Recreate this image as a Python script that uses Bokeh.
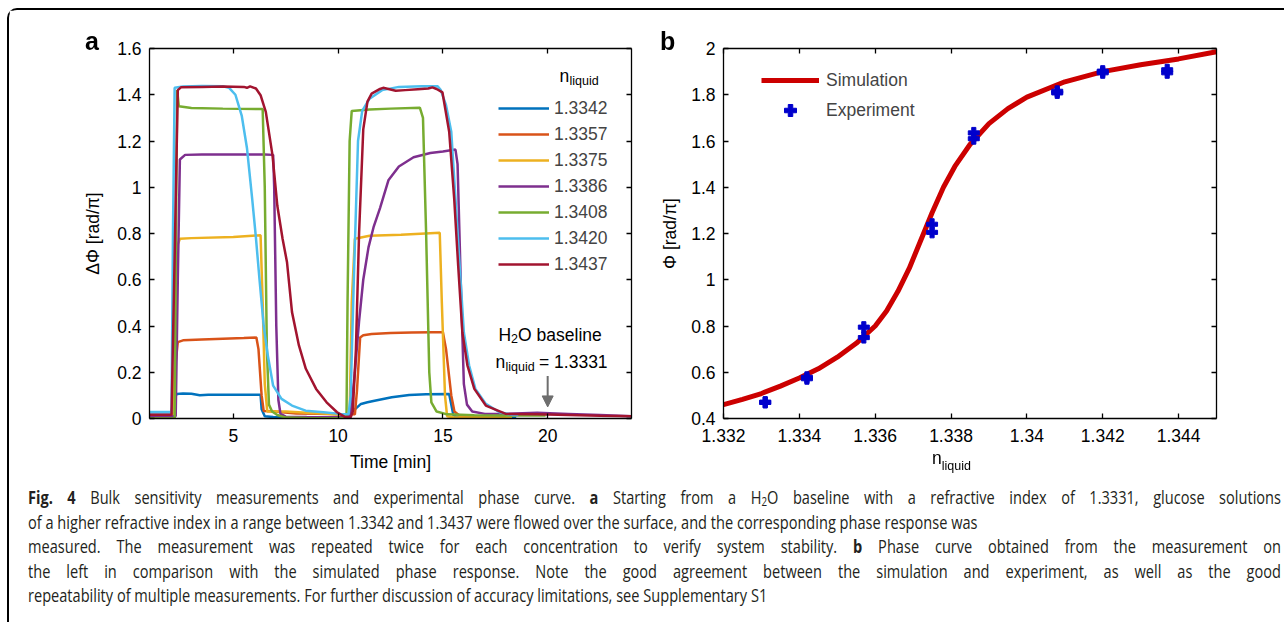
from bokeh.plotting import figure
from bokeh.models import (Range1d, LinearAxis, FixedTicker, CustomJSTickFormatter,
                          Legend, LegendItem, Label, Arrow, NormalHead, Div)
from bokeh.layouts import column, row
from bokeh.embed import file_html
from bokeh.resources import INLINE

# ---------------- Panel a data: phase response vs time ----------------
series_labels = ["1.3342", "1.3357", "1.3375", "1.3386", "1.3408", "1.3420", "1.3437"]
series_colors = ["#0072BD", "#D95319", "#EDB120", "#7E2F8E", "#77AC30", "#4DBEEE", "#A2142F"]

t_1_3342 = [1.0, 2.05, 2.15, 2.3, 2.6, 3.0, 3.4, 3.8, 5.0, 6.3, 6.35, 6.5, 6.9, 8.0, 9.0, 10.0,
            10.45, 10.76, 11.09, 11.4, 11.74, 12.56, 13.39, 14.2, 15.3, 15.4, 15.5, 15.7, 17.0, 18.5]
y_1_3342 = [0.027, 0.027, 0.08, 0.106, 0.108, 0.107, 0.101, 0.103, 0.103, 0.103, 0.04, 0.01, 0.006,
            0.005, 0.005, 0.005, 0.008, 0.036, 0.063, 0.07, 0.077, 0.092, 0.102, 0.105, 0.106, 0.06,
            0.015, 0.006, 0.004, 0.003]

t_1_3357 = [1.0, 2.1, 2.2, 2.35, 2.6, 3.5, 4.5, 5.5, 6.1, 6.2, 6.35, 6.45, 7.0, 7.2, 8.0, 9.0, 10.0,
            10.8, 10.9, 11.05, 11.2, 11.6, 12.5, 13.5, 14.5, 15.0, 15.15, 15.3, 15.4, 15.55, 15.8,
            17.0, 18.0]
y_1_3357 = [0.01, 0.01, 0.2, 0.33, 0.338, 0.342, 0.345, 0.348, 0.35, 0.3, 0.1, 0.032, 0.03, 0.028,
            0.022, 0.02, 0.018, 0.018, 0.12, 0.35, 0.36, 0.365, 0.37, 0.372, 0.373, 0.373, 0.3, 0.18,
            0.1, 0.03, 0.012, 0.008, 0.006]

t_1_3375 = [1.0, 2.15, 2.3, 2.45, 3.0, 5.0, 6.3, 6.4, 6.5, 6.62, 7.5, 8.5, 9.5, 10.4, 10.55, 10.65,
            10.8, 11.5, 13.0, 14.85, 14.95, 15.1, 15.2, 15.5, 18.3]
y_1_3375 = [0.01, 0.01, 0.74, 0.777, 0.78, 0.785, 0.792, 0.5, 0.15, 0.03, 0.03, 0.025, 0.02, 0.015,
            0.015, 0.5, 0.777, 0.79, 0.795, 0.803, 0.5, 0.1, 0.01, 0.005, 0.003]

t_1_3386 = [1.0, 2.25, 2.35, 2.45, 2.7, 3.5, 5.0, 6.5, 6.9, 6.95, 7.05, 7.15, 7.25, 7.5, 8.5, 9.5,
            10.4, 10.6, 10.8, 11.0, 11.2, 11.45, 11.7, 12.0, 12.4, 12.9, 13.6, 14.4, 15.0, 15.6,
            15.7, 15.85, 16.0, 16.15, 16.4, 17.0, 18.0, 19.5, 21.0, 22.5, 24.0]
y_1_3386 = [0.01, 0.01, 0.6, 1.12, 1.14, 1.142, 1.142, 1.142, 1.14, 1.0, 0.4, 0.08, 0.02, 0.008,
            0.006, 0.005, 0.005, 0.02, 0.2, 0.42, 0.6, 0.74, 0.83, 0.91, 1.03, 1.09, 1.13, 1.148,
            1.155, 1.163, 1.1, 0.6, 0.15, 0.06, 0.03, 0.02, 0.02, 0.025, 0.02, 0.015, 0.01]

t_1_3408 = [1.0, 2.2, 2.28, 2.32, 2.4, 3.0, 4.5, 6.4, 6.5, 6.6, 6.7, 6.85, 7.1, 7.5, 8.5, 9.5, 10.4,
            10.45, 10.55, 10.65, 11.5, 12.5, 13.9, 14.05, 14.2, 14.35, 14.45, 14.7, 15.2, 16.5,
            18.0, 19.9]
y_1_3408 = [0.0, 0.0, 1.0, 1.42, 1.35, 1.343, 1.34, 1.338, 1.0, 0.3, 0.06, 0.03, 0.015, 0.004,
            0.002, 0.001, 0.002, 0.5, 1.2, 1.33, 1.336, 1.34, 1.344, 1.3, 0.8, 0.2, 0.07, 0.03,
            0.018, 0.014, 0.013, 0.013]

t_1_3420 = [1.0, 2.05, 2.12, 2.2, 2.6, 3.5, 4.5, 4.8, 5.1, 5.4, 5.65, 5.9, 6.08, 6.25, 6.45, 6.65,
            6.9, 7.3, 7.8, 8.45, 9.3, 10.1, 10.5, 10.6, 10.75, 10.95, 11.15, 11.5, 12.1, 12.9, 14.0,
            14.75, 14.9, 15.15, 15.4, 15.6, 15.8, 16.0, 16.25, 16.55, 17.05, 17.7, 18.3, 18.6]
y_1_3420 = [0.028, 0.028, 0.8, 1.43, 1.436, 1.438, 1.437, 1.43, 1.40, 1.31, 1.17, 0.95, 0.78, 0.6,
            0.4, 0.27, 0.142, 0.085, 0.056, 0.034, 0.027, 0.02, 0.018, 0.1, 0.6, 1.2, 1.33, 1.383,
            1.42, 1.434, 1.437, 1.437, 1.42, 1.355, 1.24, 0.95, 0.66, 0.373, 0.23, 0.128, 0.063,
            0.027, 0.016, 0.015]

t_1_3437 = [1.0, 2.05, 2.2, 2.35, 2.5, 3.5, 4.5, 5.5, 5.65, 5.8, 6.08, 6.3, 6.55, 6.87, 7.1, 7.35,
            7.56, 7.8, 8.13, 8.46, 8.95, 9.45, 9.95, 10.3, 10.6, 10.7, 10.85, 11.0, 11.2, 11.4,
            11.6, 12.0, 12.15, 12.4, 12.75, 13.2, 13.8, 14.3, 14.5, 14.7, 14.98, 15.3, 15.54, 15.73,
            15.93, 16.17, 16.5, 17.05, 18.0, 19.5, 21.0, 22.5, 24.0]
y_1_3437 = [0.016, 0.016, 0.7, 1.42, 1.432, 1.434, 1.436, 1.434, 1.43, 1.436, 1.427, 1.398, 1.326,
            1.138, 0.92, 0.777, 0.677, 0.46, 0.316, 0.215, 0.128, 0.07, 0.027, 0.008, 0.005, 0.03,
            0.3, 0.8, 1.25, 1.37, 1.405, 1.425, 1.43, 1.425, 1.417, 1.42, 1.424, 1.427, 1.432,
            1.425, 1.41, 1.24, 0.95, 0.66, 0.373, 0.23, 0.128, 0.056, 0.02, 0.018, 0.015, 0.012,
            0.01]

series_t = [t_1_3342, t_1_3357, t_1_3375, t_1_3386, t_1_3408, t_1_3420, t_1_3437]
series_y = [y_1_3342, y_1_3357, y_1_3375, y_1_3386, y_1_3408, y_1_3420, y_1_3437]

a_xticks = [5, 10, 15, 20]
a_yticks = [0, 0.2, 0.4, 0.6, 0.8, 1, 1.2, 1.4, 1.6]

# ---------------- Panel b data: phase curve ----------------
n_sim = [1.332, 1.3325, 1.333, 1.3335, 1.334, 1.3345, 1.335, 1.3355, 1.336, 1.3363, 1.3366,
         1.3369, 1.3372, 1.3375, 1.3378, 1.3381, 1.3385, 1.339, 1.3395, 1.340, 1.341, 1.342,
         1.343, 1.344, 1.345]
phi_sim = [0.46, 0.483, 0.508, 0.54, 0.575, 0.615, 0.665, 0.725, 0.8, 0.865, 0.95, 1.05, 1.17,
           1.29, 1.40, 1.49, 1.585, 1.675, 1.74, 1.79, 1.856, 1.9, 1.93, 1.955, 1.986]

n_exp = [1.3331, 1.3331, 1.3342, 1.3342, 1.3357, 1.3357, 1.3375, 1.3375, 1.3386, 1.3386,
         1.3408, 1.3408, 1.3420, 1.3420, 1.3437, 1.3437]
phi_exp = [0.47, 0.47, 0.572, 0.578, 0.75, 0.795, 1.205, 1.24, 1.61, 1.635, 1.808, 1.815,
           1.895, 1.902, 1.895, 1.908]

b_xticks = [1.332, 1.334, 1.336, 1.338, 1.34, 1.342, 1.344]
b_yticks = [0.4, 0.6, 0.8, 1, 1.2, 1.4, 1.6, 1.8, 2]

FONT = "Liberation Sans"
FS = "17.5px"
SUB = "12.5px"


def style_axes(p, xticks, yticks, xlabel_standoff=10, ylabel_standoff=8):
    fmt = CustomJSTickFormatter(code="return String(tick);")
    blank = CustomJSTickFormatter(code="return '';")
    xa = p.xaxis[0]
    ya = p.yaxis[0]
    xa.ticker = FixedTicker(ticks=xticks)
    ya.ticker = FixedTicker(ticks=yticks)
    xa.formatter = fmt
    ya.formatter = fmt
    xa.major_label_standoff = xlabel_standoff
    ya.major_label_standoff = ylabel_standoff
    top = LinearAxis(ticker=FixedTicker(ticks=xticks), formatter=blank, major_label_standoff=0)
    right = LinearAxis(ticker=FixedTicker(ticks=yticks), formatter=blank, major_label_standoff=0)
    p.add_layout(top, "above")
    p.add_layout(right, "right")
    for ax in (xa, ya, top, right):
        ax.major_tick_in = 5
        ax.major_tick_out = 0
        ax.minor_tick_line_color = None
        ax.axis_line_width = 1.3
        ax.axis_line_color = "black"
        ax.major_tick_line_width = 1.3
        ax.major_tick_line_color = "black"
        ax.major_label_text_font = FONT
        ax.major_label_text_font_size = FS
        ax.major_label_text_color = "black"
        ax.axis_label_text_font = FONT
        ax.axis_label_text_font_size = FS
        ax.axis_label_text_font_style = "normal"
        ax.axis_label_text_color = "black"
    p.grid.visible = False
    p.outline_line_color = None
    return xa, ya


def lab(p, x, y, text, size=FS, style="normal", align="left", baseline="alphabetic", color="black"):
    p.add_layout(Label(x=x, y=y, x_units="screen", y_units="screen", text=text,
                       text_font=FONT, text_font_size=size, text_font_style=style,
                       text_align=align, text_baseline=baseline, text_color=color))


# ---------------- Figure a ----------------
pa = figure(width=632, height=472, x_range=Range1d(1, 24), y_range=Range1d(0, 1.6),
            output_backend="svg", toolbar_location=None,
            min_border_left=140, min_border_right=10, min_border_top=38, min_border_bottom=64)
xa, ya = style_axes(pa, a_xticks, a_yticks, xlabel_standoff=10, ylabel_standoff=8)
xa.axis_label = "Time [min]"
xa.axis_label_standoff = 7
ya.axis_label = "ΔΦ [rad/π]"
ya.axis_label_standoff = 11

items_a = []
for lbl, col, tt, yy in zip(series_labels, series_colors, series_t, series_y):
    r = pa.line(tt, yy, line_color=col, line_width=2.5)
    items_a.append(LegendItem(label=lbl, renderers=[r]))

leg_a = Legend(items=items_a, location=(349, 141), glyph_width=51, glyph_height=26,
               label_height=26, label_standoff=5, spacing=0, padding=0, margin=0,
               label_text_font=FONT, label_text_font_size=FS,
               border_line_color=None, background_fill_alpha=0)
pa.add_layout(leg_a, "center")

# legend title n_liquid
lab(pa, 410, 343, "n")
lab(pa, 420, 337.5, "liquid", size=SUB)
# H2O baseline annotation
lab(pa, 349, 84, "H")
lab(pa, 361.6, 80, "2", size=SUB)
lab(pa, 368.6, 84, "O baseline")
lab(pa, 346, 57, "n")
lab(pa, 356, 52, "liquid", size=SUB)
lab(pa, 389.5, 57, "= 1.3331")
pa.add_layout(Arrow(x_start=20, y_start=0.184, x_end=20, y_end=0.05,
                    line_color="#6E6E6E", line_width=2,
                    end=NormalHead(size=11, fill_color="#6E6E6E", line_color="#6E6E6E")))

# ---------------- Figure b ----------------
pb = figure(width=625, height=472, x_range=Range1d(1.332, 1.345), y_range=Range1d(0.4, 2.0),
            output_backend="svg", toolbar_location=None,
            min_border_left=82, min_border_right=50, min_border_top=38, min_border_bottom=64)
xb, yb = style_axes(pb, b_xticks, b_yticks, xlabel_standoff=10, ylabel_standoff=8)
yb.axis_label = "Φ [rad/π]"
yb.axis_label_standoff = 8

r_sim = pb.line(n_sim, phi_sim, line_color="#CC0000", line_width=5)
r_exp = pb.scatter(n_exp, phi_exp, marker="plus", size=11, fill_color="#0000CC",
                   line_color="#0000CC")
leg_b = Legend(items=[LegendItem(label="Simulation", renderers=[r_sim]),
                      LegendItem(label="Experiment", renderers=[r_exp])],
               location=(38, 293), glyph_width=58, glyph_height=30, label_height=30,
               label_standoff=7, spacing=0, padding=0, margin=0,
               label_text_font=FONT, label_text_font_size=FS,
               border_line_color=None, background_fill_alpha=0)
pb.add_layout(leg_b, "center")

# ---------------- Caption (plus texts that sit outside the plot frames) ----------------
cap_lines = [
    ("<b>Fig. 4</b> Bulk sensitivity measurements and experimental phase curve. <b>a</b> Starting "
     "from a H<span style='font-size:12px;position:relative;top:2px'>2</span>O baseline with a "
     "refractive index of 1.3331, glucose solutions", True),
    ("of a higher refractive index in a range between 1.3342 and 1.3437 were flowed over the "
     "surface, and the corresponding phase response was", False),
    ("measured. The measurement was repeated twice for each concentration to verify system "
     "stability. <b>b</b> Phase curve obtained from the measurement on", True),
    ("the left in comparison with the simulated phase response. Note the good agreement between "
     "the simulation and experiment, as well as the good", True),
    ("repeatability of multiple measurements. For further discussion of accuracy limitations, "
     "see Supplementary S1", False),
]
SCALE = 0.81
html_lines = []
for txt, just in cap_lines:
    al = "text-align:justify;text-align-last:justify;" if just else "text-align:left;"
    html_lines.append(f"<div style='{al}white-space:nowrap;height:24.5px;line-height:24.5px'>{txt}</div>")
cap_html = (
    "<div style='padding-left:14px;position:relative;top:-2px'>"
    f"<div style=\"width:{1253 / SCALE:.1f}px;transform:scaleX({SCALE});transform-origin:0 0;"
    "font-family:'Open Sans',sans-serif;font-size:18px;color:#231f20\">"
    + "".join(html_lines) + "</div></div>"
    # panel letters and the n_liquid axis label of panel b
    "<span style=\"position:fixed;left:85px;top:28.8px;font-family:'Liberation Sans';"
    "font-weight:bold;font-size:25px;line-height:25px;color:black\">a</span>"
    "<span style=\"position:fixed;left:660px;top:28.8px;font-family:'Liberation Sans';"
    "font-weight:bold;font-size:25px;line-height:25px;color:black\">b</span>"
    "<span style=\"position:fixed;left:932px;top:448.4px;font-family:'Liberation Sans';"
    "font-size:17.5px;line-height:20px;color:black;white-space:nowrap\">n<span style='font-size:12.5px;"
    "position:relative;top:5.5px'>liquid</span></span>"
)
cap = Div(text=cap_html, width=1266, height=130)

lay = column(row(pa, pb), cap,
             styles={"border-top": "2px solid black", "border-left": "2px solid black",
                     "border-top-left-radius": "10px", "margin-top": "8px", "margin-left": "7px"})

open("out.html", "w").write(file_html(lay, INLINE))
